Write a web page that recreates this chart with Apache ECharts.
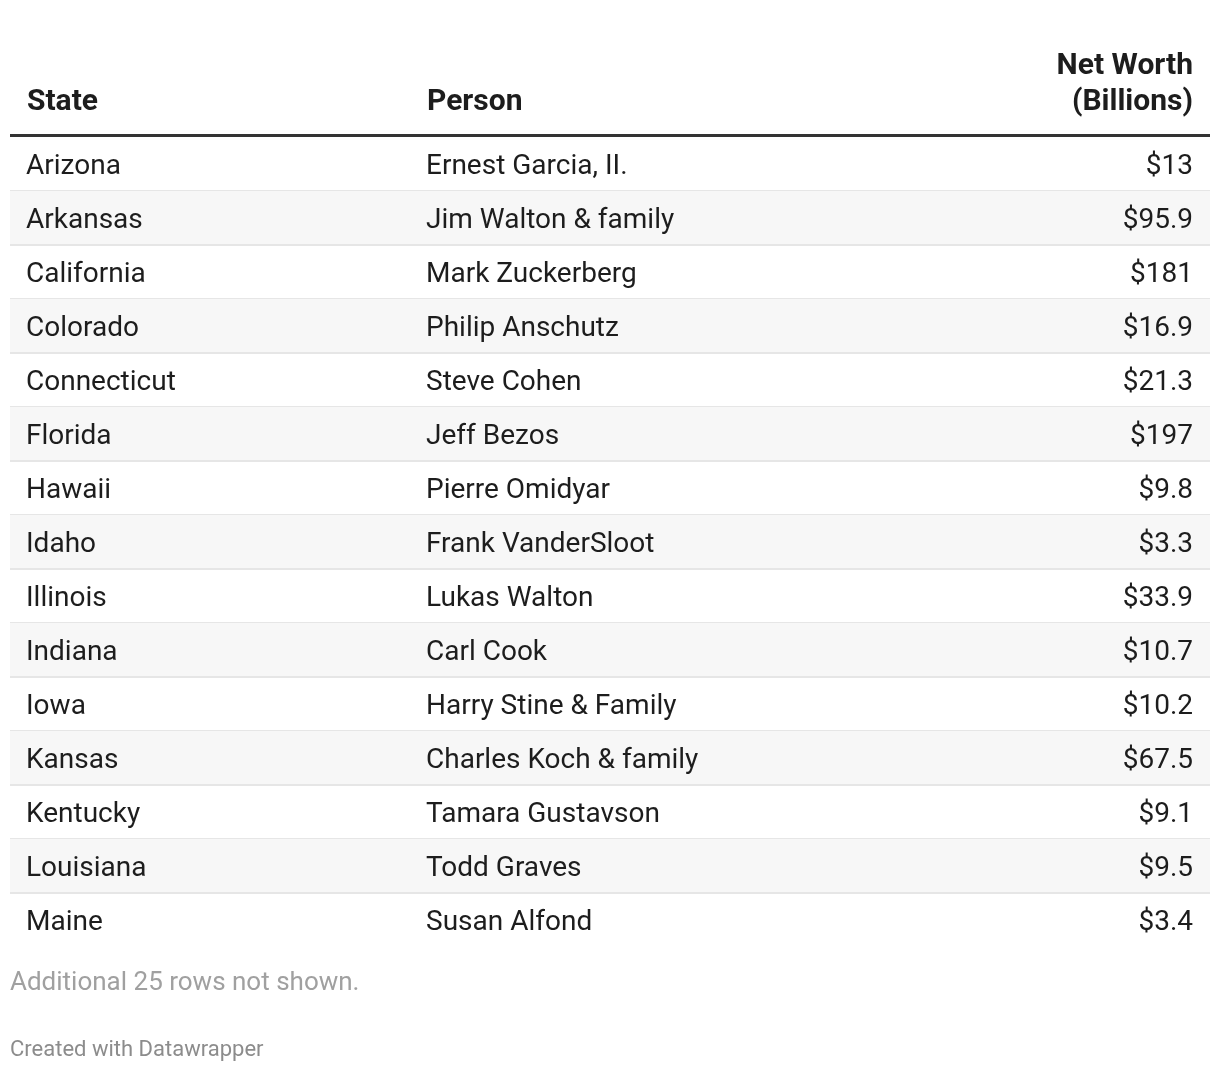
<!DOCTYPE html>
<html>
<head>
<meta charset="utf-8">
<script src="https://cdn.jsdelivr.net/npm/echarts@6/dist/echarts.min.js"></script>
<style>
html,body{margin:0;padding:0;background:#fff;}
#chart{width:1220px;height:1072px;}
</style>
</head>
<body>
<div id="chart"></div>
<script>
const states = ["Arizona","Arkansas","California","Colorado","Connecticut","Florida","Hawaii","Idaho","Illinois","Indiana","Iowa","Kansas","Kentucky","Louisiana","Maine"];
const persons = ["Ernest Garcia, II.","Jim Walton & family","Mark Zuckerberg","Philip Anschutz","Steve Cohen","Jeff Bezos","Pierre Omidyar","Frank VanderSloot","Lukas Walton","Carl Cook","Harry Stine & Family","Charles Koch & family","Tamara Gustavson","Todd Graves","Susan Alfond"];
const netWorth = [13, 95.9, 181, 16.9, 21.3, 197, 9.8, 3.3, 33.9, 10.7, 10.2, 67.5, 9.1, 9.5, 3.4];
const headers = ["State", "Person", "Net Worth", "(Billions)"];
const noteText = "Additional 25 rows not shown.";
const creditText = "Created with Datawrapper";

const FONT = "Roboto, 'Noto Sans', sans-serif";
const chart = echarts.init(document.getElementById('chart'), null, {renderer: 'canvas'});
const HFONT = "bold 30px " + FONT;
const HCOL = '#1d1d1d';

const option = {
  animation: false,
  backgroundColor: '#ffffff',
  grid: {left: 10, right: 10, top: 137, height: 810, containLabel: false},
  xAxis: {type: 'value', min: 0, max: 1, show: false},
  yAxis: {type: 'category', data: states, inverse: true, show: false},
  graphic: [
    {type: 'text', style: {x: 27, y: 102, text: headers[0], font: HFONT, fill: HCOL, align: 'left', verticalAlign: 'middle'}},
    {type: 'text', style: {x: 427, y: 102, text: headers[1], font: HFONT, fill: HCOL, align: 'left', verticalAlign: 'middle'}},
    {type: 'text', style: {x: 1193, y: 66, text: headers[2], font: HFONT, fill: HCOL, align: 'right', verticalAlign: 'middle'}},
    {type: 'text', style: {x: 1193, y: 102, text: headers[3], font: HFONT, fill: HCOL, align: 'right', verticalAlign: 'middle'}},
    {type: 'rect', shape: {x: 10, y: 134, width: 1200, height: 3}, style: {fill: '#333333'}},
    {type: 'text', style: {x: 10, y: 983, text: noteText, font: "26px " + FONT, fill: '#a0a0a0', align: 'left', verticalAlign: 'middle'}},
    {type: 'text', style: {x: 10, y: 1050, text: creditText, font: "22px " + FONT, fill: '#8c8c8c', align: 'left', verticalAlign: 'middle'}}
  ],
  series: [{
    type: 'custom',
    data: states.map((s, i) => [0, s]),
    encode: {x: 0, y: 1},
    renderItem: function (params, api) {
      const i = params.dataIndex;
      const cs = params.coordSys;
      const center = api.coord([0, api.value(1)]);
      const band = api.size([0, 1])[1];
      const top = center[1] - band / 2;
      const ty = center[1] + 3;
      const children = [];
      if (i % 2 === 1) {
        children.push({type: 'rect', shape: {x: cs.x, y: top, width: cs.width, height: band}, style: {fill: '#f7f7f7'}});
      }
      if (i < states.length - 1) {
        children.push({type: 'rect', shape: {x: cs.x, y: top + band - 1, width: cs.width, height: 2}, style: {fill: '#e6e6e6'}});
      }
      const txt = {font: "28px " + FONT, fill: '#1d1d1d', verticalAlign: 'middle'};
      children.push({type: 'text', style: Object.assign({}, txt, {text: states[i], x: cs.x + 16, y: ty, align: 'left'})});
      children.push({type: 'text', style: Object.assign({}, txt, {text: persons[i], x: cs.x + 416, y: ty, align: 'left'})});
      children.push({type: 'text', style: Object.assign({}, txt, {text: '$' + netWorth[i], x: cs.x + cs.width - 17, y: ty, align: 'right'})});
      return {type: 'group', children: children};
    }
  }]
};
chart.setOption(option);
</script>
</body>
</html>
